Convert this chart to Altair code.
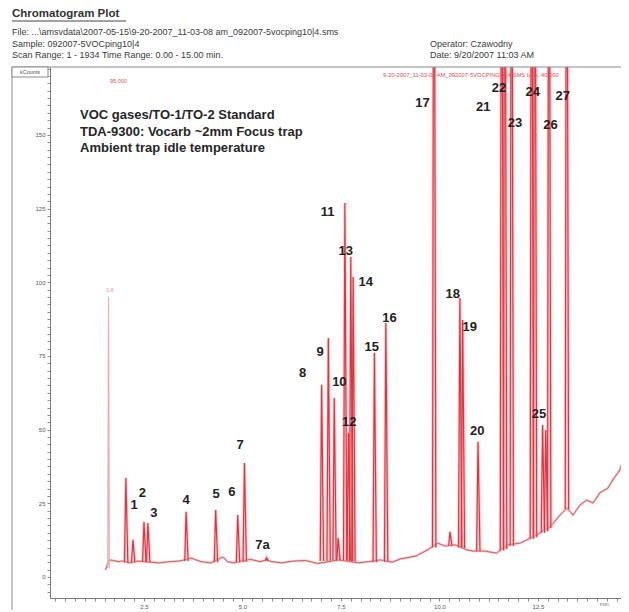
import altair as alt
import pandas as pd

# ---------------- text content ----------------
TITLE = "Chromatogram Plot"
FILE_LINE = "File: ...\\amsvdata\\2007-05-15\\9-20-2007_11-03-08 am_092007-5vocping10|4.sms"
SAMPLE_LINE = "Sample: 092007-5VOCping10|4"
SCAN_LINE = "Scan Range: 1 - 1934   Time Range: 0.00 - 15.00 min."
OPERATOR_LINE = "Operator: Czawodny"
DATE_LINE = "Date: 9/20/2007 11:03 AM"
TRACE_HEADER = "9-20-2007_11-03-08 AM_092007-5VOCPING10|4.SMS   Ions: 40.000"
LEFT_RED = "95.000"
MARKER_TXT = "1.6"
Y_UNIT = "kCounts"
X_UNIT = "min."
NOTE_LINES = ["VOC gases/TO-1/TO-2 Standard",
              "TDA-9300: Vocarb ~2mm Focus trap",
              "Ambient trap idle temperature"]

# ---------------- baseline of the trace (min, kCounts) ----------------
base_t = [1.52, 1.62, 1.72, 1.85, 1.95, 2.14, 2.35, 2.68, 2.90, 3.15, 3.40, 3.70,
          3.95, 4.20, 4.50, 4.62, 4.78, 5.20, 5.45, 5.60, 5.75, 6.00, 6.30, 6.60,
          6.90, 7.45, 7.95, 8.20, 8.50, 8.80, 9.00, 9.40, 9.70, 9.95, 10.15, 10.40,
          10.70, 10.85, 11.15, 11.45, 11.72, 12.05, 12.42, 12.81, 13.06, 13.24, 13.39,
          13.57, 13.74, 13.90, 14.07, 14.28, 14.40, 14.58, 14.71]
base_v = [2.4, 5.8, 5.6, 5.2, 5.4, 4.8, 5.4, 5.0, 4.8, 5.2, 5.4, 6.4,
          5.2, 4.8, 6.8, 5.2, 4.8, 6.0, 5.2, 5.8, 5.2, 4.8, 5.4, 5.6,
          4.6, 5.8, 4.8, 5.2, 5.8, 5.0, 6.1, 7.1, 9.2, 11.5, 10.5, 10.9,
          9.2, 8.8, 8.8, 8.1, 10.9, 11.5, 13.9, 17.0, 21.0, 23.4, 21.0,
          24.4, 26.1, 25.1, 28.5, 30.2, 32.9, 36.3, 41.4]

# ---------------- peaks: retention time, apex, base ----------------
peak_t = [2.04, 2.22, 2.50, 2.60, 3.57, 4.32, 4.88, 5.05, 5.61,
          7.01, 7.18, 7.33, 7.43, 7.60, 7.69, 7.75, 7.81, 8.35, 8.64,
          9.86, 10.27, 10.52, 10.59, 10.98, 11.58, 11.66, 11.83,
          12.34, 12.42, 12.62, 12.70, 12.78, 13.23]
peak_h = [33.6, 12.6, 18.7, 18.3, 22.1, 22.7, 21.0, 38.7, 6.5,
          65.2, 81.1, 60.7, 13.2, 126.9, 48.9, 108.6, 101.8, 76.0, 86.2,
          300, 15.3, 94.7, 87.2, 45.9, 300, 300, 300,
          300, 300, 51.6, 49.9, 300, 300]
peak_b = [5.0, 5.0, 5.2, 5.0, 5.4, 5.0, 5.0, 5.2, 5.4,
          5.4, 5.4, 5.6, 5.6, 5.6, 5.6, 5.4, 5.2, 5.0, 5.2,
          10.0, 10.5, 10.0, 9.8, 8.8, 9.0, 9.5, 10.5,
          13.0, 13.5, 15.0, 15.5, 16.5, 23.0]

# pink reference marker line
marker_t = [1.60]
marker_h = [95.0]
marker_b = [3.0]

# ---------------- peak labels ----------------
label_txt = ["1", "2", "3", "4", "5", "6", "7", "7a", "8", "9", "10", "11", "12", "13",
             "14", "15", "16", "17", "18", "19", "20", "21", "22", "23", "24", "25",
             "26", "27"]
label_t = [2.25, 2.46, 2.75, 3.57, 4.33, 4.73, 4.94, 5.51, 6.53, 6.97, 7.46, 7.16, 7.71,
           7.62, 8.13, 8.28, 8.73, 9.57, 10.34, 10.77, 10.96, 11.11, 11.51, 11.92,
           12.37, 12.53, 12.82, 13.13]
label_v = [24.4, 28.6, 21.8, 26.1, 28.2, 28.8, 44.8, 10.9, 69.3, 76.5, 66.3, 124.0, 52.7,
           110.6, 100.2, 78.1, 87.8, 160.9, 96.0, 84.7, 49.6, 159.6, 165.8, 154.0,
           164.7, 55.2, 153.4, 163.2]

# ---------------- axes ----------------
X_DOMAIN = [0.114, 14.61]
Y_DOMAIN = [-7.13, 173.06]
x_ticks = [i * 0.25 for i in range(1, 59)]
y_ticks = [i * 2.5 for i in range(-2, 70)]

FONT = "Liberation Sans"
RED = "#e2343f"
HALO = "#f5a3a8"

xs = alt.Scale(domain=X_DOMAIN, nice=False, zero=False)
ys = alt.Scale(domain=Y_DOMAIN, nice=False, zero=False)

base_df = pd.DataFrame({"t": base_t, "v": base_v})

rows = []
for i, (t, h, b) in enumerate(zip(peak_t, peak_h, peak_b)):
    rows.append({"pk": i, "t": t - 0.035, "v": b})
    rows.append({"pk": i, "t": t, "v": h})
    rows.append({"pk": i, "t": t + 0.05, "v": b})
peak_df = pd.DataFrame(rows)

mrows = []
for i, (t, h, b) in enumerate(zip(marker_t, marker_h, marker_b)):
    mrows.append({"pk": i, "t": t - 0.02, "v": b})
    mrows.append({"pk": i, "t": t, "v": h})
    mrows.append({"pk": i, "t": t + 0.02, "v": b})
marker_df = pd.DataFrame(mrows)

label_df = pd.DataFrame({"t": label_t, "v": label_v, "label": label_txt})

X_AX = alt.Axis(values=x_ticks, title=None, grid=False, tickSize=3, tickColor="#8a8a8a",
                domainColor="#7a7a7a", labelFontSize=6, labelColor="#555", labelFont=FONT,
                labelOverlap=False, labelFlush=False, labelPadding=2,
                labelExpr="datum.value % 2.5 === 0 ? format(datum.value, '.1f') : ''")
Y_AX = alt.Axis(values=y_ticks, title=None, grid=False, tickSize=3, tickColor="#8a8a8a",
                domainColor="#7a7a7a", labelFontSize=6, labelColor="#555", labelFont=FONT,
                labelOverlap=False, labelFlush=False, labelPadding=2,
                labelExpr="(datum.value % 25 === 0 && datum.value >= 0 && datum.value <= 150) ? format(datum.value, 'd') : ''")

XE = alt.X("t:Q", scale=xs, axis=X_AX)
YE = alt.Y("v:Q", scale=ys, axis=Y_AX)

one = alt.Data(values=[{}])


def txt(s, x, y, size=9, weight="normal", color="#3a3a3a", align="left"):
    return alt.Chart(one).mark_text(text=s, align=align, baseline="middle", font=FONT,
                                    fontSize=size, fontWeight=weight, color=color).encode(
        x=alt.value(x), y=alt.value(y))


def hrule(x, x2, y, color="#8a8a8a", w=1):
    return alt.Chart(one).mark_rule(color=color, strokeWidth=w).encode(
        x=alt.value(x), x2=alt.value(x2), y=alt.value(y))


def vrule(x, y, y2, color="#8a8a8a", w=1):
    return alt.Chart(one).mark_rule(color=color, strokeWidth=w).encode(
        x=alt.value(x), y=alt.value(y), y2=alt.value(y2))


layers = []
# trace (first layer carries the axes)
layers.append(alt.Chart(base_df).mark_line(color=HALO, strokeWidth=2.5, opacity=0.6).encode(
    x=XE, y=YE))
layers.append(alt.Chart(base_df).mark_line(color="#c9605f", strokeWidth=1).encode(x=XE, y=YE))
layers.append(alt.Chart(marker_df).mark_line(color="#f2a7b4", strokeWidth=1.2, clip=True).encode(
    x=XE, y=YE, detail="pk:N"))
layers.append(alt.Chart(peak_df).mark_line(color=HALO, strokeWidth=3, opacity=0.55, clip=True).encode(
    x=XE, y=YE, detail="pk:N"))
layers.append(alt.Chart(peak_df).mark_line(color=RED, strokeWidth=1.2, clip=True).encode(
    x=XE, y=YE, detail="pk:N"))
# frame
layers.append(hrule(-38, 590, 0))
layers.append(vrule(-38, 0, 550))
layers.append(alt.Chart(one).mark_rect(fill="white", stroke="#8a8a8a", strokeWidth=1).encode(
    x=alt.value(-38), x2=alt.value(-2), y=alt.value(0), y2=alt.value(10)))
layers.append(txt(Y_UNIT, -20, 5, size=5.5, color="#555", align="center"))
layers.append(txt(X_UNIT, 555, 537, size=5.5, color="#777", align="center"))
# header
layers.append(txt(TITLE, -38, -53, size=11.5, weight="bold", color="#333"))
layers.append(hrule(-38, 76, -46, color="#444", w=1))
layers.append(txt(FILE_LINE, -38, -35, size=9))
layers.append(txt(SAMPLE_LINE, -38, -23, size=9))
layers.append(txt(SCAN_LINE, -38, -12, size=9))
layers.append(txt(OPERATOR_LINE, 380, -23, size=9))
layers.append(txt(DATE_LINE, 380, -12, size=9))
# red annotations
layers.append(txt(TRACE_HEADER, 333, 8, size=5.8, color="#e04a55"))
layers.append(txt(LEFT_RED, 60, 14, size=5.5, color="#e04a55"))
layers.append(txt(MARKER_TXT, 60, 223, size=5.5, color="#e8909c", align="center"))
# notes
for i, line in enumerate(NOTE_LINES):
    layers.append(txt(line, 30, 48 + i * 16.5, size=13, weight="bold", color="#262626"))
# peak labels
layers.append(alt.Chart(label_df).mark_text(font=FONT, fontSize=13, fontWeight="bold",
                                            color="#222", baseline="middle").encode(
    x=XE, y=YE, text="label:N"))

chart = alt.layer(*layers).properties(
    width=571, height=531,
    padding={"left": 42, "top": 59, "right": 0, "bottom": 12},
    autosize=alt.AutoSizeParams(type="none"),
    background="white",
).configure_view(stroke=None)

chart.save("out.html", embed_options={"renderer": "svg", "actions": False})
